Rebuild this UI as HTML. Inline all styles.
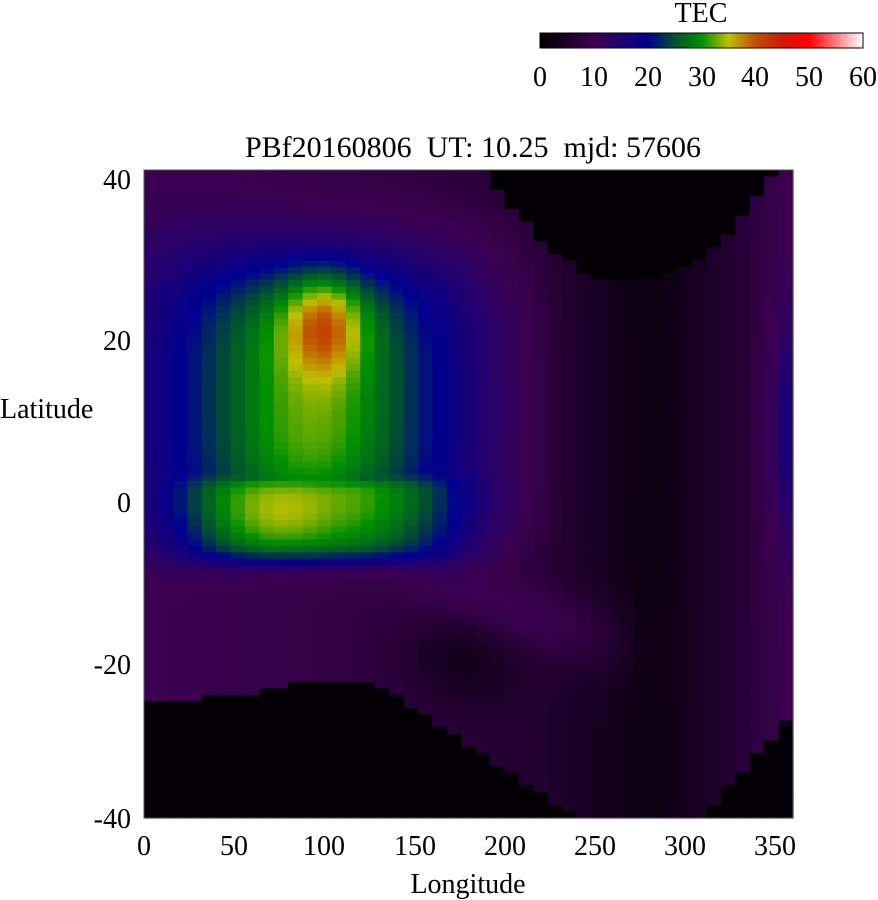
<!DOCTYPE html>
<html><head><meta charset="utf-8">
<style>
html,body{margin:0;padding:0;background:#fff;}
svg{display:block;}
text{font-family:"Liberation Serif",serif;font-size:28px;fill:#000;white-space:pre;}
</style></head>
<body>
<svg id="s" width="878" height="900" xmlns="http://www.w3.org/2000/svg">
<defs>
<linearGradient id="cb" x1="0" x2="1" y1="0" y2="0">
<stop offset="0" stop-color="#000000"/>
<stop offset="0.083" stop-color="#1c0028"/>
<stop offset="0.167" stop-color="#3c0050"/>
<stop offset="0.25" stop-color="#200070"/>
<stop offset="0.333" stop-color="#000090"/>
<stop offset="0.417" stop-color="#005030"/>
<stop offset="0.5" stop-color="#009000"/>
<stop offset="0.583" stop-color="#c0c000"/>
<stop offset="0.667" stop-color="#c05000"/>
<stop offset="0.75" stop-color="#d01800"/>
<stop offset="0.833" stop-color="#ff0000"/>
<stop offset="0.917" stop-color="#ff8080"/>
<stop offset="1" stop-color="#ffffff"/>
</linearGradient>
</defs>
<g id="heat"></g>
<rect x="144" y="170" width="649" height="648" fill="none" stroke="#555" stroke-width="1"/>
<rect x="540" y="33" width="323" height="15" fill="url(#cb)" stroke="#000" stroke-width="1"/>
<text x="701" y="22" text-anchor="middle">TEC</text>
<g text-anchor="middle">
<text x="540" y="86">0</text><text x="594" y="86">10</text><text x="648" y="86">20</text>
<text x="702" y="86">30</text><text x="755" y="86">40</text><text x="809" y="86">50</text><text x="863" y="86">60</text>
<text x="473" y="157" xml:space="preserve" style="font-size:30px">PBf20160806  UT: 10.25  mjd: 57606</text>
<text x="144" y="855">0</text><text x="234" y="855">50</text><text x="324" y="855">100</text>
<text x="415" y="855">150</text><text x="505" y="855">200</text><text x="595" y="855">250</text>
<text x="685" y="855">300</text><text x="775" y="855">350</text>
<text x="468" y="893">Longitude</text>
</g>
<g text-anchor="end">
<text x="131" y="189">40</text><text x="131" y="350">20</text><text x="131" y="512">0</text>
<text x="131" y="674">-20</text><text x="131" y="828">-40</text>
</g>
<text x="0" y="418">Latitude</text>
</svg>
<script>
var stops=[[0,[0,0,0]],[5,[28,0,40]],[10,[60,0,80]],[15,[32,0,112]],[20,[0,0,144]],[25,[0,80,48]],[30,[0,144,0]],[35,[192,192,0]],[40,[192,80,0]],[45,[208,24,0]],[50,[255,0,0]],[55,[255,128,128]],[60,[255,255,255]]];
function col(v){v=Math.max(0,Math.min(60,v));for(var i=0;i<stops.length-1;i++){var a=stops[i],b=stops[i+1];if(v<=b[0]){var t=(v-a[0])/(b[0]-a[0]);return 'rgb('+a[1].map(function(c,k){return Math.round(c+(b[1][k]-c)*t)}).join(',')+')';}}return '#fff';}
function lerp(pts,x){for(var i=0;i<pts.length-1;i++){if(x<=pts[i+1][0]){var t=(x-pts[i][0])/(pts[i+1][0]-pts[i][0]);return pts[i][1]+(pts[i+1][1]-pts[i][1])*t;}}return pts[pts.length-1][1];}
function E(x){return Math.exp(x);}
function val(lon,lat){
 var base=lerp([[0,10],[40,9.5],[140,8],[220,6],[260,3.5],[280,2],[300,3.5],[340,8],[360,10]],lon);
 var v=base;
 var hl=lat<10?Math.pow((lat-10)/18,6):Math.pow((lat-10)/22,4);
 v+=11*E(-Math.pow((lon-100)/110,4))*E(-hl);
 var bu=13*E(-Math.pow((lon-95)/52,2))*E(-Math.pow((lat-13)/15,4));
 var bl=13*E(-Math.pow((lon-105)/80,4))*E(-Math.pow((lat+3)/5.5,6))*(lon>120?Math.max(0.45,1-(lon-120)/120):1);
 v+=Math.max(bu,bl);
 v+=3*E(-Math.pow((lon-75)/30,2)-Math.pow((lat+3)/4,2));
 v+=10*E(-Math.pow((lon-100)/20,2)-Math.pow((lat-21)/6,2));
 v+=8*E(-Math.pow((lon-362)/14,2)-Math.pow((lat-8)/14,2));
 var c=-10-(lon-130)*0.06;
 v+=4*E(-Math.pow((lat-c)/5,2))*E(-Math.pow((lon-210)/60,4));
 v-=4*E(-Math.pow((lon-175)/30,2)-Math.pow((lat+20)/6,2));
 if(lon>190&&lon<355){var bt=26+14*Math.pow((lon-270)/80,2);if(lat>bt)v=0.6;}
 var bb=lerp([[0,-25.5],[60,-25],[80,-23.5],[130,-23.5],[240,-40],[310,-40],[360,-27]],lon);
 if(lat<bb)v=0.6;
 return Math.max(0.3,v);
}
var g=document.getElementById('heat'),h='';
var nc=45,nr=100,x0=144,y0=170,W=649,H=648;
for(var i=0;i<nc;i++){for(var j=0;j<nr;j++){
 var lon=(i+0.5)*360/nc,lat=40-(j+0.5)*80/nr;
 var x=x0+i*W/nc,y=y0+j*H/nr;
 h+='<rect x="'+x.toFixed(2)+'" y="'+y.toFixed(2)+'" width="'+(W/nc+0.6).toFixed(2)+'" height="'+(H/nr+0.6).toFixed(2)+'" fill="'+col(val(lon,lat))+'"/>';
}}
g.innerHTML=h;
</script>
</body></html>
